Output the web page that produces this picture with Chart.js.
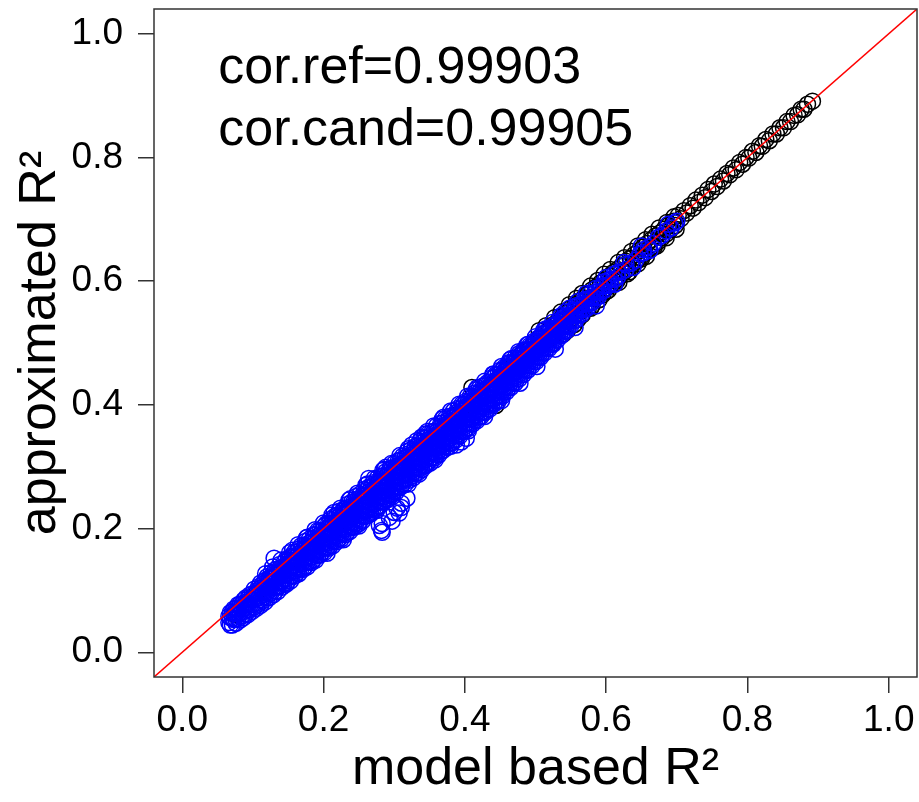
<!DOCTYPE html>
<html><head><meta charset="utf-8">
<script src="https://cdn.jsdelivr.net/npm/chart.js@4.4.1/dist/chart.umd.min.js"></script>
<style>html,body{margin:0;padding:0;background:#fff;}canvas{display:block;}</style>
</head><body>
<canvas id="c" width="919" height="802"></canvas>
<script>
// ---- data (values in thousandths: [x, y1, y2, ...]) ----
const axisRange = [-0.04, 1.04];
const tickValues = [0, 0.2, 0.4, 0.6, 0.8, 1.0];
const tickLabels = ['0.0', '0.2', '0.4', '0.6', '0.8', '1.0'];
const xTitle = 'model based R²';
const yTitle = 'approximated R²';
const annotations = ['cor.ref=0.99903', 'cor.cand=0.99905'];
const annotX = 0.051;
const annotY = [0.92, 0.82];

const refCols = [
[74,61],[91,77],[104,94],[121,106],[133,124],[152,136],[163,151],[181,165],[194,183],[212,194],[223,212],[241,224],[254,243],[272,255],[283,272],[301,285],[314,303],[332,314],[343,333],[362,345],[373,362],
[382,371],[389,384],[396,380],[403,398],[410,428],[412,405],[418,409],[425,420],[431,418],[437,433],[444,399],[446,441],[452,439],[458,456],[463,449],[469,466],[474,462],[479,481],[484,470],[490,488],[495,484],[499,501],
[503,494],[505,520],[506,509],[510,500],[513,516],[515,528],[517,505],[520,523],[523,512],[525,500],[526,530],[527,541],[529,518],[532,536],[535,524],[536,550],[538,543],[540,515],[541,530],[544,549],[545,520],[547,536],[548,562],[550,556],[553,541],[555,530],[556,562],[558,572],[559,548],[560,538],[562,568],[565,552],[566,580,545],[568,573],[571,560],[574,580],[575,557],[577,565],[578,592,556],[580,586,560],[583,572],[586,591],[588,601],[589,578],[590,570],[592,597],[595,584,578],[597,611],[598,602],[600,583],[601,589],[603,585],[604,608],[606,619],[607,596],[610,614],[613,601],[615,600],[616,619],[617,630],[618,598],[619,607],[622,625],
[625,614],[626,638],[628,632],[630,612],[631,620],[633,615],[634,637],[636,648],[637,626],[640,643],[643,632],[645,657,628],[646,649],[649,638],[650,636],[652,655],[655,645],[656,667],[657,640],[658,661],[661,651],[664,667],[665,676],[667,657],[668,655],[670,673],[672,657],[673,663],[675,686],[676,678],[679,670],[682,684],[685,676,670],[686,695],[688,690],[691,683],[695,697],[696,704],[698,690],[699,684],
[702,706],[706,701],[710,714],[714,710],[719,722],[723,718],[727,731],[731,727],[736,739],[740,735],[744,748],[749,745],[753,757],[757,753],[762,765],[766,762],[771,774],[775,772],[780,783],[784,780],[789,792],[793,789],[798,800],[802,799],[807,810],[812,808],[817,819],[821,818],[826,829],[831,827],[836,838],[841,838],[846,848],[851,848],[856,858],[861,858],[866,868],[871,869],[876,878],[880,878],[885,886],[892,891]
];

const candCols = [
[66,48,58],[68,44,56,64],[71,44,55,65],[73,53,63,70],[76,47,54,63,71],[79,54,62,71,77],[82,52,63,71,78],[85,59,70,78],[87,56,66,75,84],[90,62,72,81,88],
[93,61,69,79,87],[96,69,77,86,93],[99,66,77,86,94],[102,73,85,94,102],[105,71,80,90,99],[108,78,88,97,106],[111,76,85,95,104,112],[114,83,93,102,110],[117,81,90,99,108,116],[118,127],[120,88,97,106,115,122],
[123,88,95,104,113,120],[126,96,105,114,120,129],[128,138],[129,93,104,113,121,128],[130,152],[132,99,105,113,121,128,134],[135,98,106,113,121,129],[138,107,114,122,129,136,142],[140,149],[141,105,114,123,130,137],[144,111,119,129,137,145],[147,110,118,126,135,142,150],
[150,116,127,134,142,149],[152,161],[153,115,123,133,140,148,155],[156,124,131,139,147,154,165],[159,123,131,140,148,155,162],[162,128,138,147,155,162],[164,174],[165,127,135,144,152,159,167],[168,135,142,151,158,165,172],[171,134,143,151,159,166],[174,139,150,158,166,173,179],[176,185],[177,138,146,155,163,171,186],
[180,146,153,162,170,177,183],[183,145,154,162,170,178],[186,150,161,169,177,184,190],[188,198],[189,149,158,166,174,182,190],[192,157,165,173,181,188,197],[195,157,165,174,182,189,197],[198,162,172,181,189,196],[200,209],[201,161,169,178,186,194,204],[204,169,176,185,193,200,208],[205,160],[207,168,177,185,193,201,208],
[210,173,184,192,200,207,215],[212,222],[213,172,180,189,197,205,213],[215,226],[216,180,187,196,204,211,220],[219,179,188,197,205,213,221],[222,184,195,204,212,219,228],[224,233],[225,183,191,200,209,217,225],[228,182,191,198,207,215,223,231],[231,190,199,208,216,224,232],[234,195,206,215,223,230,239],[236,246],[237,195,202,211,220,228,235],[238,248],
[240,202,210,218,226,234,243],[243,202,210,219,227,235,243],[246,209,217,226,234,242,252],[248,257],[249,207,215,224,232,240,248],[250,204],[252,213,221,230,238,246,256],[255,212,220,229,237,245,253],[258,220,229,237,246,253,263],[260,270],[261,220,228,237,245,254,262],[262,272],[264,225,234,242,251,259,267,281],[267,224,232,241,249,258,266],
[270,232,239,248,256,264,274],[272,281],[273,231,240,248,257,265,273],[275,229],[276,236,247,255,263,272,281],[279,205,236,244,252,261,269,277],[282,197,243,251,259,268,276,285],[283,194,208],[284,294],[285,243,251,260,268,277,285],[286,296],[288,248,258,266,275,283,292,299],[291,247,255,264,272,281,289],[293,218],
[294,255,262,271,279,288,297],[296,305],[297,212,255,263,271,280,288,297],[298,252],[300,226,260,269,278,286,295,305],[303,259,267,276,284,292,301],[304,233],[306,267,276,284,293,301,310],[307,225],[308,318],[309,267,275,284,292,301,310],[310,234,241],[312,272,280,289,298,306,317],
[315,271,280,288,297,305,314],[318,249,280,288,297,305,314,324],[320,272,329],[321,278,287,295,304,312,321],[324,284,293,301,310,319,328],[325,335],[327,282,291,299,308,316,325],[330,289,298,306,315,323,333],[332,342],[333,290,298,307,315,324,333],[335,288],[336,297,306,314,323,332,341],[339,295,303,312,320,329,338,348],[342,302,310,319,327,336,346],
[344,353],[345,302,311,319,328,337,346],[347,357],[348,307,317,326,334,343,353],[351,306,314,323,332,340,349],[354,315,323,331,340,348,357],[356,366],[357,314,322,331,340,348,357],[358,311],[360,320,330,338,347,356,366],[363,319,327,336,344,353,362],[366,325,334,342,351,360,370],[368,377],[369,326,335,344,352,361,371],[370,380],[372,333,341,350,359,367,377],
[375,331,340,348,357,365,374],[378,338,346,355,364,372,381],[380,333,390],[381,338,347,355,364,373,382],[384,343,354,362,371,380,390],[387,343,351,360,369,377,386],[388,335],[390,350,359,367,376,384,394],[392,401],[393,350,358,367,376,384,393],[395,340],[396,357,366,374,383,391,401],
[399,357,365,374,383,391,401],[402,346,362,371,379,388,397,406],[404,414],[405,358,362,370,379,387,396,405],[408,370,378,387,396,404,414],[411,369,378,386,395,404,413],[414,375,383,392,400,409,419],[416,425],[417,374,383,391,400,409,418],[418,428],[420,380,390,398,407,416,426],[423,381,388,397,405,414,423],[426,388,396,405,414,422,431],
[428,381,438],[429,388,396,405,413,422,431],[432,393,401,410,419,427,436],[435,393,401,410,418,427,436],[438,401,409,417,426,435,444],[440,450,449],[441,401,409,418,426,435,444],[444,406,414,423,431,440,449],[447,406,414,423,431,440,449],[450,414,422,431,439,447,456],[452,407,462],[453,414,422,431,439,448,456],[456,421,429,438,446,454,461],
[459,421,429,438,446,454,461],[462,428,436,445,453,461,468],[464,473],[465,428,436,445,453,461,468],[466,475],[468,435,443,452,460,468],[471,435,443,452,460,468,476],[474,442,450,459,467,475],[476,486],[477,442,450,459,467,475,483],[478,435],[480,449,457,466,474,482],[483,449,457,466,474,482,488],[486,456,464,473,481,489],
[488,497],[489,456,464,473,481,489],[490,498],[492,463,471,480,488,496],[495,463,471,480,488,496],[498,470,478,487,495,503],[500,510],[501,470,478,487,495,503],[502,462],[504,477,485,494,502,508],[507,477,485,494,502,508],[510,484,492,501,509,515],[512,521],[513,484,492,501,509,515],[515,523],[516,491,499,508,516],
[519,491,499,508,516,523],[522,498,506,515,523],[524,533],[525,498,506,515,523,528],[528,490,505,513,522,530],[531,505,513,522,530],[534,512,520,529,537],[536,544],[537,512,520,529,537],[540,519,527,536,542],[542,550],[543,519,527,536,544],[547,527,535,544],
[548,556],[550,528,536,545,552],[554,536,544,552],[556,525],[557,537,545,553,560],[560,567],[561,545,553,561],[565,546,554,562],[569,554,562,570],[572,580],[573,556,564,571],[577,564,572,579],[581,566,574],[585,573,582,588],[586,560],
[589,575,583],[593,583,591],[597,585,593,599],[600,606],[602,593,601],[606,595,603],[611,603,611],[612,595],[616,606,614],[622,615],[625,630],[628,619,627],[635,629],[638,622],
[642,634],[648,644],[650,657],[653,646,651],[660,655],[662,650],[667,661],[674,671],[679,674],[685,681],[688,692],[692,686],[697,694],[700,697]
];

function toPoints(cols) {
  const pts = [];
  cols.forEach(c => { for (let i = 1; i < c.length; i++) pts.push({ x: c[0] / 1000, y: c[i] / 1000 }); });
  return pts;
}

const FAMILY = '"Liberation Sans", Arial, Helvetica, sans-serif';

const boxPlugin = {
  id: 'boxAndText',
  afterDatasetsDraw(chart) {
    const { ctx, chartArea: a, scales: { x, y } } = chart;
    ctx.save();
    ctx.strokeStyle = '#333';
    ctx.lineWidth = 1.5;
    ctx.strokeRect(a.left, a.top, a.right - a.left, a.bottom - a.top);
    ctx.fillStyle = '#000';
    ctx.font = '52px ' + FAMILY;
    ctx.textAlign = 'left';
    ctx.textBaseline = 'alphabetic';
    annotations.forEach((t, i) => ctx.fillText(t, x.getPixelForValue(annotX), y.getPixelForValue(annotY[i])));
    ctx.restore();
  }
};

function zeroPad(s) { s.paddingLeft = 0; s.paddingRight = 0; s.paddingTop = 0; s.paddingBottom = 0; }

const commonGrid = { drawOnChartArea: false, drawTicks: true, tickLength: 16, color: '#333', lineWidth: 1.5 };

new Chart(document.getElementById('c'), {
  type: 'scatter',
  data: {
    datasets: [
      { type: 'line', data: axisRange.map(v => ({ x: v, y: v })), borderColor: '#ff0000', borderWidth: 1.5, pointRadius: 0, fill: false, order: 0 },
      { type: 'scatter', data: toPoints(candCols), pointBorderColor: '#0000ff', pointBackgroundColor: 'rgba(0,0,0,0)', pointRadius: 8, pointBorderWidth: 1.5, pointHoverRadius: 8, order: 1 },
      { type: 'scatter', data: toPoints(refCols), pointBorderColor: '#000000', pointBackgroundColor: 'rgba(0,0,0,0)', pointRadius: 8, pointBorderWidth: 1.5, pointHoverRadius: 8, order: 2 }
    ]
  },
  options: {
    responsive: false,
    animation: false,
    devicePixelRatio: 1,
    events: [],
    layout: { autoPadding: false, padding: { left: 0, right: 2, top: 9, bottom: 0 } },
    plugins: { legend: { display: false }, tooltip: { enabled: false } },
    scales: {
      x: {
        type: 'linear', min: axisRange[0], max: axisRange[1],
        afterBuildTicks: s => { s.ticks = tickValues.map(v => ({ value: v })); },
        afterFit: s => { s.height = 125; zeroPad(s); },
        grid: commonGrid,
        border: { display: false },
        ticks: { font: { family: FAMILY, size: 37, lineHeight: 1 }, color: '#000', padding: 9, maxRotation: 0, autoSkip: false, callback: (v, i) => tickLabels[i] },
        title: { display: true, text: xTitle, font: { family: FAMILY, size: 52 }, color: '#000', padding: { top: 0, bottom: 1 } }
      },
      y: {
        type: 'linear', min: axisRange[0], max: axisRange[1],
        afterBuildTicks: s => { s.ticks = tickValues.map(v => ({ value: v })); },
        afterFit: s => { s.width = 154; zeroPad(s); },
        grid: commonGrid,
        border: { display: false },
        ticks: { font: { family: FAMILY, size: 37, lineHeight: 1 }, color: '#000', padding: 15, autoSkip: false, callback: (v, i) => tickLabels[i] },
        title: { display: true, text: yTitle, font: { family: FAMILY, size: 52 }, color: '#000', padding: { top: 9, bottom: 0 } }
      }
    }
  },
  plugins: [boxPlugin]
});
</script>
</body></html>
